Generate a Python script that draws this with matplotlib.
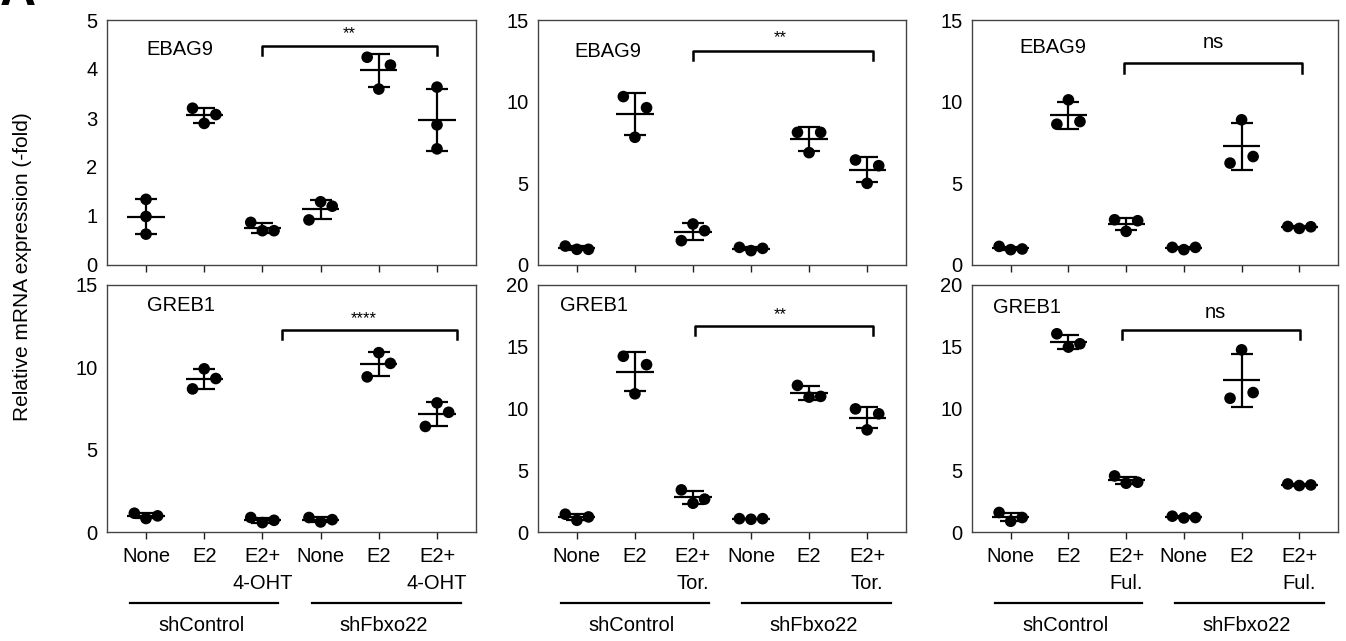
import numpy as np
import matplotlib.pyplot as plt
from matplotlib.transforms import blended_transform_factory

plt.rcParams['font.family'] = ['Liberation Sans', 'DejaVu Sans']

# replicate values per group: shControl None/E2/E2+drug, shFbxo22 None/E2/E2+drug
ebag9_oht = [[1.34, 0.99, 0.63], [3.20, 3.07, 2.89], [0.87, 0.70, 0.70],
             [0.92, 1.29, 1.20], [4.24, 4.08, 3.59], [3.63, 2.86, 2.37]]
greb1_oht = [[1.14, 0.82, 0.98], [9.91, 9.32, 8.69], [0.88, 0.57, 0.71],
             [0.88, 0.61, 0.75], [10.89, 10.24, 9.42], [7.84, 7.27, 6.41]]
ebag9_tor = [[1.16, 0.96, 0.96], [10.31, 9.63, 7.82], [2.51, 2.10, 1.49],
             [1.08, 0.88, 1.02], [8.12, 8.12, 6.88], [6.43, 6.08, 5.00]]
greb1_tor = [[1.44, 0.95, 1.22], [14.23, 13.55, 11.19], [3.41, 2.33, 2.66],
             [1.08, 1.03, 1.08], [11.87, 10.92, 10.98], [9.97, 9.57, 8.27]]
ebag9_ful = [[1.14, 0.94, 0.98], [10.11, 8.78, 8.62], [2.77, 2.71, 2.06],
             [1.08, 0.94, 1.08], [8.89, 6.64, 6.24], [2.36, 2.24, 2.34]]
greb1_ful = [[1.58, 0.87, 1.17], [16.05, 14.97, 15.24], [4.54, 3.95, 4.03],
             [1.28, 1.14, 1.17], [14.75, 11.29, 10.83], [3.89, 3.76, 3.81]]

drugs = ['4-OHT', 'Tor.', 'Ful.']
genes = ['EBAG9', 'GREB1']
cell_lines = ['shControl', 'shFbxo22']
significance = [['**', '****'], ['**', '**'], ['ns', 'ns']]

# horizontal slot of each dot (-1 left, 0 centre, 1 right)
slots_oht = [[[0, 0, 0], [-1, 1, 0], [-1, 0, 1], [-1, 0, 1], [-1, 1, 0], [0, 0, 0]],
             [[-1, 0, 1], [0, 1, -1], [-1, 0, 1], [-1, 0, 1], [0, 1, -1], [0, 1, -1]]]
slots_tor = [[[-1, 0, 1], [-1, 1, 0], [0, 1, -1], [-1, 0, 1], [-1, 1, 0], [-1, 1, 0]],
             [[-1, 0, 1], [-1, 1, 0], [-1, 0, 1], [-1, 0, 1], [-1, 0, 1], [-1, 1, 0]]]
slots_ful = [[[-1, 0, 1], [0, 1, -1], [-1, 1, 0], [-1, 0, 1], [0, 1, -1], [-1, 0, 1]],
             [[-1, 0, 1], [-1, 0, 1], [-1, 0, 1], [-1, 0, 1], [0, 1, -1], [-1, 0, 1]]]

# bracket: x0, x1, bar y, leg y, text x, text y
brackets = [[(2.0, 5.0, 4.46, 4.29, 3.5, 4.72), (2.33, 5.35, 12.25, 11.7, 3.74, 12.95)],
            [(2.0, 5.1, 13.1, 12.55, 3.5, 13.95), (2.03, 5.1, 16.69, 15.99, 3.5, 17.6)],
            [(1.97, 5.04, 12.35, 11.78, 3.51, 13.6), (1.93, 5.01, 16.33, 15.6, 3.55, 17.8)]]

ylims = [[5, 15], [15, 20], [15, 20]]
ysteps = [[1, 5], [5, 5], [5, 5]]
gene_pos = [[(0.108, 0.878), (0.108, 0.915)],
            [(0.10, 0.87), (0.06, 0.915)],
            [(0.13, 0.886), (0.057, 0.907)]]

data = [[ebag9_oht, greb1_oht], [ebag9_tor, greb1_tor], [ebag9_ful, greb1_ful]]
slots = [slots_oht, slots_tor, slots_ful]

W, H = 1346, 641
lefts = [107, 538, 972]
widths = [369, 368, 366]
rows = [(20, 265), (285, 532)]
fs = 14.5

fig = plt.figure(figsize=(W / 100, H / 100), dpi=100)

for c in range(3):
	for r in range(2):
		top, bot = rows[r]
		ax = fig.add_axes([lefts[c] / W, 1 - bot / H, widths[c] / W, (bot - top) / H])
		pts = data[c][r]
		for i, vals in enumerate(pts):
			vals = np.array(vals)
			m = vals.mean()
			sd = vals.std(ddof=1)
			xs = i + 0.2 * np.array(slots[c][r][i])
			ax.scatter(xs, vals, s=70, color='black', edgecolors='none', zorder=3)
			ax.plot([i - 0.32, i + 0.32], [m, m], color='black', lw=1.6, solid_capstyle='butt')
			ax.errorbar(i, m, yerr=sd, fmt='none', ecolor='black', elinewidth=1.6,
						capsize=8, capthick=1.6)

		x0, x1, yb, yl, tx, ty = brackets[c][r]
		ax.plot([x0, x0, x1, x1], [yl, yb, yb, yl], color='black', lw=1.8)
		sig = significance[c][r]
		ax.text(tx, ty, sig, ha='center', va='center', fontsize=fs if sig == 'ns' else 12)

		gx, gy = gene_pos[c][r]
		ax.text(gx, gy, genes[r], transform=ax.transAxes, ha='left', va='center', fontsize=fs)

		ax.set_xlim(-0.67, 5.67)
		ax.set_ylim(0, ylims[c][r])
		ax.set_yticks(np.arange(0, ylims[c][r] + 0.1, ysteps[c][r]))
		ax.set_xticks(range(6))
		for s in ax.spines.values():
			s.set_color('#444444')
			s.set_linewidth(1.0)
		ax.tick_params(axis='y', length=0, pad=7, labelsize=fs)
		ax.tick_params(axis='x', length=5, width=1.0, color='#222222', labelsize=fs, pad=6)

		if r == 0:
			ax.set_xticklabels([])
		else:
			labels = ['None', 'E2', 'E2+\n' + drugs[c]] * 2
			ax.set_xticklabels(labels, linespacing=1.5)
			tr = blended_transform_factory(ax.transData, ax.transAxes)
			for k, (a, b) in enumerate([(-0.27, 2.27), (2.85, 5.42)]):
				ax.plot([a, b], [-0.287, -0.287], color='black', lw=1.6,
						transform=tr, clip_on=False)
				ax.text((a + b) / 2 - 0.05, -0.377, cell_lines[k], transform=tr,
						ha='center', va='center', fontsize=fs)

fig.text(0.0165, 1 - 267 / H, 'Relative mRNA expression (-fold)', rotation=90,
		 ha='center', va='center', fontsize=15)
fig.text(0.0, 1 - 5 / H, 'A', fontsize=36, fontweight='bold', ha='left', va='baseline')

plt.savefig('out.png', dpi=100)
